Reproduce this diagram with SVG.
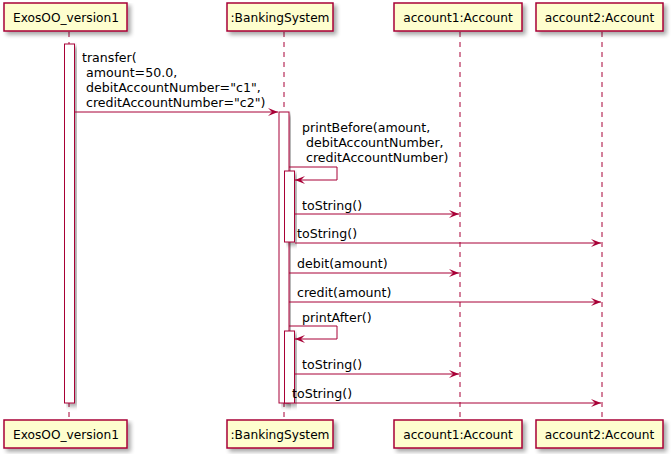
<svg xmlns="http://www.w3.org/2000/svg" width="672" height="454" viewBox="0 0 672 454">
<defs>
<filter id="sh" x="-10%" y="-10%" width="130%" height="150%">
<feGaussianBlur in="SourceAlpha" stdDeviation="2"/>
<feOffset dx="3" dy="3" result="b"/>
<feComponentTransfer><feFuncA type="linear" slope="0.35"/></feComponentTransfer>
<feMerge><feMergeNode/><feMergeNode in="SourceGraphic"/></feMerge>
</filter>
<marker id="ah" markerWidth="11" markerHeight="9" refX="10" refY="4" orient="auto" markerUnits="userSpaceOnUse">
<polygon points="0,0 10,4 0,8 4,4" fill="#A80036"/>
</marker>
</defs>
<style>
.box{fill:#FEFECE;stroke:#A80036;stroke-width:1.5;filter:url(#sh)}
.life{stroke:#A80036;stroke-width:1;stroke-dasharray:5,5;fill:none}
.act{fill:#FFFFFF;stroke:#A80036;stroke-width:1;filter:url(#sh)}
.msg{stroke:#A80036;stroke-width:1;fill:none;marker-end:url(#ah)}
.pt{font-family:"DejaVu Sans",Verdana,sans-serif;font-size:12.2px;fill:#000}
.mt{font-family:"DejaVu Sans",Verdana,sans-serif;font-size:12.6px;fill:#000;white-space:pre}
</style>
<rect width="672" height="454" fill="#FFFFFF"/>
<g id="lifelines">
<line class="life" x1="69" y1="32" x2="69" y2="420"/>
<line class="life" x1="284" y1="32" x2="284" y2="420"/>
<line class="life" x1="460" y1="32" x2="460" y2="420"/>
<line class="life" x1="602" y1="32" x2="602" y2="420"/>
</g>
<g id="node-exos">
<rect class="box" x="4" y="3" width="123" height="28"/>
<text class="pt" x="66" y="21.5" text-anchor="middle">ExosOO_version1</text>
<rect class="box" x="4" y="420" width="123" height="28"/>
<text class="pt" x="66" y="438.5" text-anchor="middle">ExosOO_version1</text>
</g>
<g id="node-banking">
<rect class="box" x="227" y="3" width="106" height="28"/>
<text class="pt" x="280" y="21.5" text-anchor="middle">:BankingSystem</text>
<rect class="box" x="227" y="420" width="106" height="28"/>
<text class="pt" x="280" y="438.5" text-anchor="middle">:BankingSystem</text>
</g>
<g id="node-account1">
<rect class="box" x="394" y="3" width="128" height="28"/>
<text class="pt" x="458" y="21.5" text-anchor="middle">account1:Account</text>
<rect class="box" x="394" y="420" width="128" height="28"/>
<text class="pt" x="458" y="438.5" text-anchor="middle">account1:Account</text>
</g>
<g id="node-account2">
<rect class="box" x="536" y="3" width="127" height="28"/>
<text class="pt" x="599.5" y="21.5" text-anchor="middle">account2:Account</text>
<rect class="box" x="536" y="420" width="127" height="28"/>
<text class="pt" x="599.5" y="438.5" text-anchor="middle">account2:Account</text>
</g>
<g id="activations">
<rect class="act" x="64.5" y="44" width="10" height="359"/>
<rect class="act" x="279" y="112" width="10" height="291"/>
<rect class="act" x="284.5" y="171" width="10" height="71"/>
<rect class="act" x="284.5" y="331" width="10" height="72"/>
</g>
<g id="connectors">
<line class="msg" x1="75" y1="112" x2="278" y2="112"/>
<polyline class="msg" points="289,167 337,167 337,180 295,180"/>
<line class="msg" x1="295" y1="214" x2="459" y2="214"/>
<line class="msg" x1="295" y1="243" x2="601" y2="243"/>
<line class="msg" x1="289" y1="273" x2="459" y2="273"/>
<line class="msg" x1="289" y1="302" x2="601" y2="302"/>
<polyline class="msg" points="289,326 337,326 337,339 295,339"/>
<line class="msg" x1="295" y1="374" x2="459" y2="374"/>
<line class="msg" x1="295" y1="403" x2="601" y2="403"/>
</g>
<g id="labels" xml:space="preserve">
<text class="mt" x="82" y="62">transfer(</text>
<text class="mt" x="82" y="77"> amount=50.0,</text>
<text class="mt" x="82" y="92"> debitAccountNumber="c1",</text>
<text class="mt" x="82" y="107"> creditAccountNumber="c2")</text>
<text class="mt" x="302" y="132">printBefore(amount,</text>
<text class="mt" x="302" y="147"> debitAccountNumber,</text>
<text class="mt" x="302" y="162"> creditAccountNumber)</text>
<text class="mt" x="302" y="210">toString()</text>
<text class="mt" x="297" y="238">toString()</text>
<text class="mt" x="297" y="268">debit(amount)</text>
<text class="mt" x="297" y="297">credit(amount)</text>
<text class="mt" x="302" y="322">printAfter()</text>
<text class="mt" x="302" y="369">toString()</text>
<text class="mt" x="292" y="398">toString()</text>
</g>
</svg>
